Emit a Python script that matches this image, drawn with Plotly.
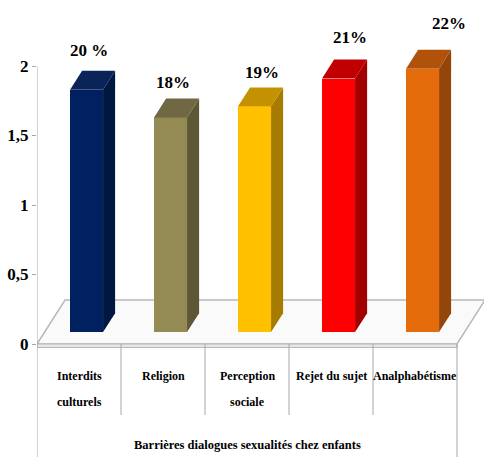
import plotly.graph_objects as go

# ---------------- data ----------------
categories = ["Interdits|culturels", "Religion", "Perception|sociale", "Rejet du sujet", "Analphabétisme"]
values = [1.83, 1.63, 1.71, 1.91, 1.98]
pct_labels = ["20 %", "18%", "19%", "21%", "22%"]
y_ticks = [0, 0.5, 1, 1.5, 2]
y_tick_text = ["0", "0,5", "1", "1,5", "2"]
axis_title = "Barrières dialogues sexualités chez enfants"

front_colors = ["#002060", "#948a54", "#ffc000", "#ff0000", "#e46c0a"]
side_colors = ["#00173f", "#5e5735", "#a67c00", "#a30000", "#94460a"]
top_colors = ["#0a2358", "#706743", "#c49200", "#c00000", "#b0520a"]

# label nudges in pixels (style)
label_xshift = [-4, -4, 1, 5, 20]
label_yshift = [9, 5, 3, 11, 15]

# ---------------- geometry (styles) ----------------
W, H = 484, 457
ML = 37
px_x = 84.0    # pixels per category
px_y = 139.0   # pixels per value unit
y0_pix = 344.0
x_range = [-0.5, -0.5 + (W - ML) / px_x]
y_range = [-(H - y0_pix) / px_y, y0_pix / px_y]

floor_dx, floor_dy = 28 / px_x, 44 / px_y
f_front, f_back = 0.27, 0.70
bar_w = 33 / px_x
bdx = (f_back - f_front) * floor_dx
bdy = (f_back - f_front) * floor_dy
fx = f_front * floor_dx
fy = f_front * floor_dy
n = len(categories)

fig = go.Figure()

# floor (below everything)
x_left, x_right = -0.5, n - 0.5
fig.add_shape(type="path",
              path=f"M {x_left},0 L {x_right},0 L {x_right+floor_dx},{floor_dy} L {x_left+floor_dx},{floor_dy} Z",
              fillcolor="#fafafa", line=dict(color="#b8b8b8", width=1.5), layer="below")
slab = 3.5 / px_y
fig.add_shape(type="path",
              path=f"M {x_left},0 L {x_right},0 L {x_right},{-slab} L {x_left},{-slab} Z",
              fillcolor="#e6e6e6", line=dict(color="#b8b8b8", width=1), layer="below")

# front faces
xs = [i + fx for i in range(n)]
fig.add_trace(go.Bar(x=xs, y=[v - fy for v in values], base=[fy] * n, width=bar_w,
                     marker=dict(color=front_colors, line=dict(width=0)),
                     hoverinfo="skip", showlegend=False))

# side and top faces
for i, v in enumerate(values):
    x0 = xs[i] - bar_w / 2
    x1 = xs[i] + bar_w / 2
    fig.add_trace(go.Scatter(x=[x1, x1 + bdx, x1 + bdx, x1, x1],
                             y=[fy, fy + bdy, v + bdy, v, fy],
                             fill="toself", fillcolor=side_colors[i], mode="lines",
                             line=dict(width=0, color=side_colors[i]), hoverinfo="skip", showlegend=False))
    fig.add_trace(go.Scatter(x=[x0, x1, x1 + bdx, x0 + bdx, x0],
                             y=[v, v, v + bdy, v + bdy, v],
                             fill="toself", fillcolor=top_colors[i], mode="lines",
                             line=dict(width=0, color=top_colors[i]), hoverinfo="skip", showlegend=False))
    fig.add_annotation(x=xs[i] + bdx / 2, y=v + bdy, text=pct_labels[i], showarrow=False,
                       yanchor="bottom", xshift=label_xshift[i], yshift=label_yshift[i],
                       font=dict(family="Liberation Serif", size=17, color="black", weight="bold"))

# axis line and separators
line_col = "#a6a6a6"
fig.add_shape(type="line", x0=-0.5, x1=-0.5, y0=y_range[0], y1=2, line=dict(color=line_col, width=1))
fig.add_shape(type="line", x0=n - 0.5, x1=n - 0.5, y0=y_range[0], y1=0, line=dict(color=line_col, width=1))
sep_bottom = -(415 - y0_pix) / px_y
for k in range(1, n):
    fig.add_shape(type="line", x0=-0.5 + k, x1=-0.5 + k, y0=sep_bottom, y1=0,
                  line=dict(color=line_col, width=1))

# category labels
for i, c in enumerate(categories):
    for j, part in enumerate(c.split("|")):
        fig.add_annotation(x=i, y=-(376 + 26 * j - y0_pix) / px_y, text=part, showarrow=False,
                           font=dict(family="Liberation Serif", size=12, color="black", weight="bold"))

fig.add_annotation(x=(n - 1) / 2, y=-(445 - y0_pix) / px_y, text=axis_title, showarrow=False,
                   font=dict(family="Liberation Serif", size=12.5, color="black", weight="bold"))

fig.update_layout(
    template="none",
    width=W, height=H,
    margin=dict(l=ML, r=0, t=0, b=0, pad=0),
    paper_bgcolor="white", plot_bgcolor="rgba(0,0,0,0)",
    bargap=0,
    xaxis=dict(range=x_range, visible=False, fixedrange=True, automargin=False),
    yaxis=dict(range=y_range, tickvals=y_ticks, ticktext=y_tick_text, showgrid=False,
               zeroline=False, showline=False, ticks="outside", ticklen=4, tickcolor=line_col,
               tickfont=dict(family="Liberation Serif", size=17, color="black", weight="bold"),
               automargin=False, fixedrange=True),
)

fig.write_html("out.html", config={"displayModeBar": False},
               post_script="document.body.style.margin='0';document.body.style.overflow='hidden';")
